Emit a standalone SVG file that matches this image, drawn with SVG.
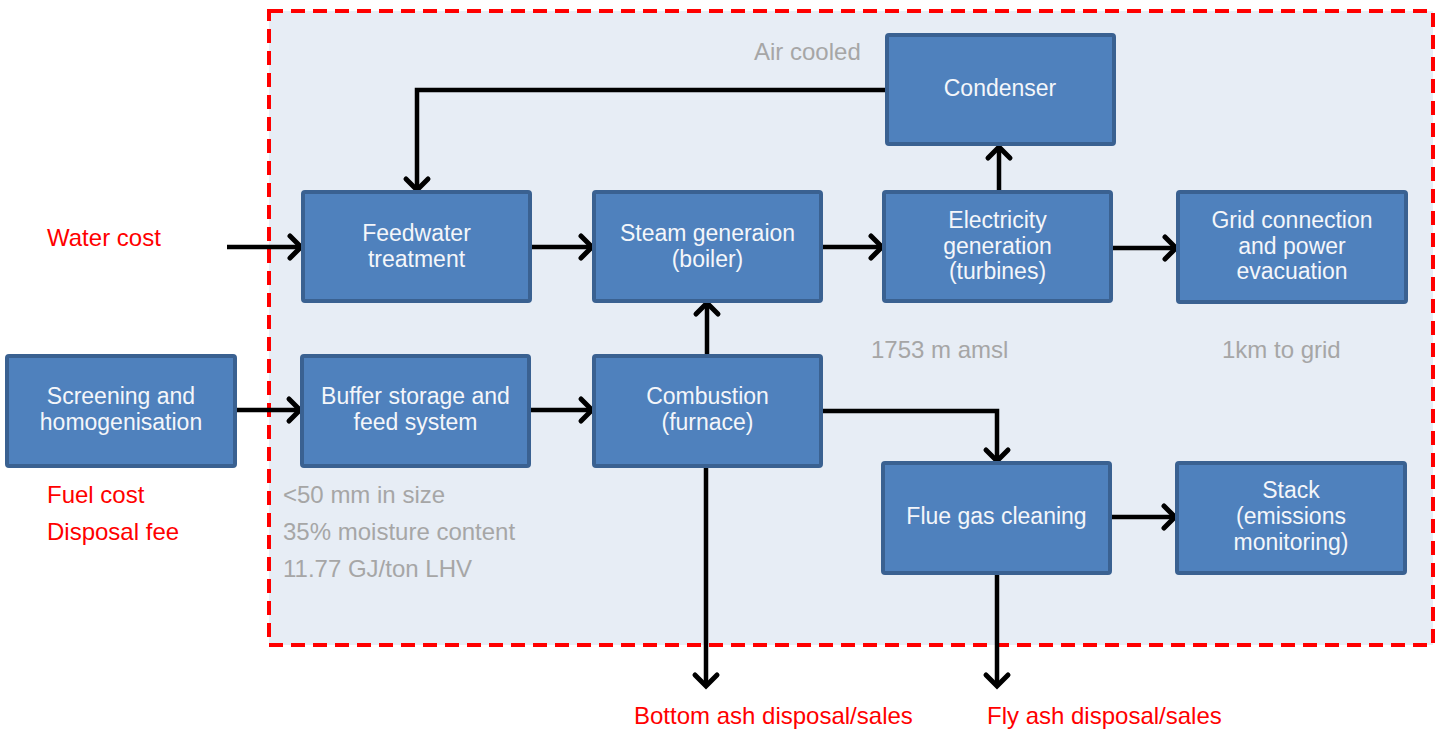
<svg xmlns="http://www.w3.org/2000/svg" width="1442" height="729" viewBox="0 0 1442 729">
<style>
.box{fill:#4F81BD;stroke:#3A6191;stroke-width:4}
.bt{font-family:"Liberation Sans",Arial,sans-serif;font-size:23px;fill:#F4F6FA;text-anchor:middle}
.gray{font-family:"Liberation Sans",Arial,sans-serif;font-size:24px;fill:#A6A6A6}
.red{font-family:"Liberation Sans",Arial,sans-serif;font-size:24px;fill:#FF0000}
.conn{fill:none;stroke:#000;stroke-width:4.5;marker-end:url(#arr)}
</style>
<defs>
<marker id="arr" markerUnits="userSpaceOnUse" markerWidth="24" markerHeight="28" refX="15" refY="13" orient="auto" overflow="visible">
<path d="M4,2 L15,13 L4,24" fill="none" stroke="#000" stroke-width="5" stroke-linecap="round" stroke-linejoin="miter"/>
</marker>
</defs>
<rect x="0" y="0" width="1442" height="729" fill="#FFFFFF"/>
<rect id="boundary" x="269" y="11" width="1164" height="634" fill="#E7EDF5" stroke="#FF0000" stroke-width="4" stroke-dasharray="14,8"/>

<g id="connectors">
<path class="conn" d="M887,90 H417 V190"/>
<path class="conn" d="M227,247 H301"/>
<path class="conn" d="M530,247 H592"/>
<path class="conn" d="M821,247 H882"/>
<path class="conn" d="M999,192 V147"/>
<path class="conn" d="M1111,248 H1176"/>
<path class="conn" d="M235,410 H300"/>
<path class="conn" d="M529,410 H592"/>
<path class="conn" d="M707,356 V303"/>
<path class="conn" d="M821,411 H997 V461"/>
<path class="conn" d="M706,466 V686"/>
<path class="conn" d="M997,573 V686"/>
<path class="conn" d="M1110,517 H1175"/>
</g>

<g id="condenser"><rect class="box" x="887" y="35" width="227" height="109" rx="2"/><text class="bt" x="1000" y="96">Condenser</text></g>
<g id="feedwater"><rect class="box" x="303" y="192" width="227" height="109" rx="2"/><text class="bt" x="416.5" y="241">Feedwater</text><text class="bt" x="416.5" y="267">treatment</text></g>
<g id="steam"><rect class="box" x="594" y="192" width="227" height="109" rx="2"/><text class="bt" x="707.5" y="241">Steam generaion</text><text class="bt" x="707.5" y="267">(boiler)</text></g>
<g id="electricity"><rect class="box" x="884" y="192" width="227" height="109" rx="2"/><text class="bt" x="997.5" y="228">Electricity</text><text class="bt" x="997.5" y="254">generation</text><text class="bt" x="997.5" y="279">(turbines)</text></g>
<g id="grid"><rect class="box" x="1178" y="192" width="228" height="110" rx="2"/><text class="bt" x="1292" y="228">Grid connection</text><text class="bt" x="1292" y="254">and power</text><text class="bt" x="1292" y="279">evacuation</text></g>
<g id="screening"><rect class="box" x="7" y="356" width="228" height="110" rx="2"/><text class="bt" x="121" y="404">Screening and</text><text class="bt" x="121" y="430">homogenisation</text></g>
<g id="buffer"><rect class="box" x="302" y="356" width="227" height="110" rx="2"/><text class="bt" x="415.5" y="404">Buffer storage and</text><text class="bt" x="415.5" y="430">feed system</text></g>
<g id="combustion"><rect class="box" x="594" y="356" width="227" height="110" rx="2"/><text class="bt" x="707.5" y="404">Combustion</text><text class="bt" x="707.5" y="430">(furnace)</text></g>
<g id="flue"><rect class="box" x="883" y="463" width="227" height="110" rx="2"/><text class="bt" x="996.5" y="524">Flue gas cleaning</text></g>
<g id="stack"><rect class="box" x="1177" y="463" width="228" height="110" rx="2"/><text class="bt" x="1291" y="498">Stack</text><text class="bt" x="1291" y="524">(emissions</text><text class="bt" x="1291" y="550">monitoring)</text></g>

<g id="labels">
<text class="gray" x="754" y="60">Air cooled</text>
<text class="gray" x="871" y="358">1753 m amsl</text>
<text class="gray" x="1222" y="358">1km to grid</text>
<text class="gray" x="283" y="503">&lt;50 mm in size</text>
<text class="gray" x="283" y="540">35% moisture content</text>
<text class="gray" x="283" y="577">11.77 GJ/ton LHV</text>
<text class="red" x="47" y="246">Water cost</text>
<text class="red" x="47" y="503">Fuel cost</text>
<text class="red" x="47" y="540">Disposal fee</text>
<text class="red" x="634" y="724">Bottom ash disposal/sales</text>
<text class="red" x="987" y="724">Fly ash disposal/sales</text>
</g>
</svg>
